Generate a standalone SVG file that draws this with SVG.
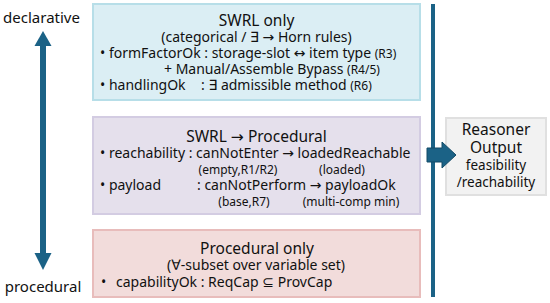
<svg xmlns="http://www.w3.org/2000/svg" width="550" height="303" viewBox="0 0 550 303">
<style>
text{font-family:"Noto Sans","Open Sans","DejaVu Sans",sans-serif;fill:#111;}
.t{font-size:15.5px;text-anchor:middle;}
.b{font-size:14px;}
.s{font-size:12px;}
.c{text-anchor:middle;}
.lab{font-size:15px;text-anchor:middle;}
.o{font-size:13.5px;text-anchor:middle;}
</style>
<g id="axis-labels">
<text class="lab" x="41.5" y="23">declarative</text>
<text class="lab" x="43" y="292">procedural</text>
</g>
<g id="swrl-only">
<rect x="93" y="4" width="327" height="96" fill="#dbeef4" stroke="#b7dee8" stroke-width="2"/>
<text class="t" x="256.5" y="26">SWRL only</text>
<text class="b c" x="256.5" y="42">(categorical / ∃ → Horn rules)</text>
<text class="b" x="100" y="58">• formFactorOk : storage-slot ↔ item type <tspan class="s">(R3)</tspan></text>
<text class="b" x="164" y="74">+ Manual/Assemble Bypass <tspan class="s">(R4/5)</tspan></text>
<text class="b" x="100" y="90">• handlingOk</text>
<text class="b" x="201" y="90">: ∃ admissible method <tspan class="s">(R6)</tspan></text>
</g>
<g id="swrl-procedural">
<rect x="93" y="117" width="327" height="97" fill="#e5e0ec" stroke="#d3cce2" stroke-width="2"/>
<text class="t" x="256.5" y="142">SWRL → Procedural</text>
<text class="b" x="100" y="158">• reachability : canNotEnter → loadedReachable</text>
<text class="s c" x="238" y="174">(empty,R1/R2)</text>
<text class="s c" x="342" y="174">(loaded)</text>
<text class="b" x="100" y="190">• payload</text>
<text class="b" x="197" y="190">: canNotPerform → payloadOk</text>
<text class="s c" x="244" y="206">(base,R7)</text>
<text class="s c" x="351" y="206">(multi-comp min)</text>
</g>
<g id="procedural-only">
<rect x="93" y="230" width="327" height="67" fill="#f2dcdb" stroke="#e8bcbb" stroke-width="2"/>
<text class="t" x="257" y="254">Procedural only</text>
<text class="b c" x="256" y="270">(∀-subset over variable set)</text>
<text class="b" x="101" y="287">•</text>
<text class="b" x="116" y="287">capabilityOk : ReqCap ⊆ ProvCap</text>
</g>
<g id="reasoner-output">
<rect x="446" y="118" width="100" height="77" fill="#f2f2f2" stroke="#e0e0e0" stroke-width="2"/>
<text class="t" x="496" y="135">Reasoner</text>
<text class="t" x="496" y="153">Output</text>
<text class="o" x="496" y="170">feasibility</text>
<text class="o" x="496" y="187">/reachability</text>
</g>
<g id="connectors">
<line x1="43" y1="45" x2="43" y2="254" stroke="#1b6286" stroke-width="6"/>
<path d="M43,31 L51.5,46 L34.5,46 Z" fill="#1b6286"/>
<path d="M43,270 L51.5,253 L34.5,253 Z" fill="#1b6286"/>
<line x1="433" y1="4" x2="433" y2="297" stroke="#1b6286" stroke-width="4"/>
<path d="M427,148 L442,148 L442,142 L456,155 L442,168 L442,162 L427,162 Z" fill="#1b6286" stroke="#124a66" stroke-width="1"/>
</g>
</svg>
